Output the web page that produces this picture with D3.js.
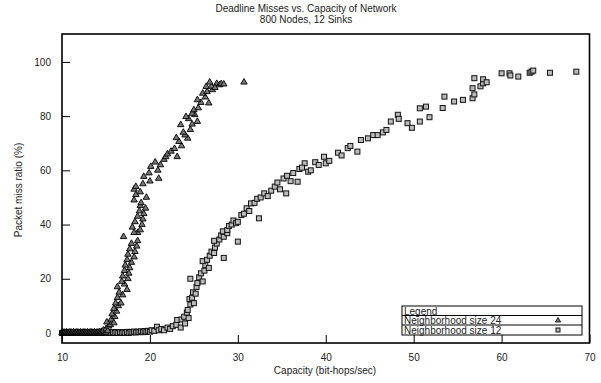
<!DOCTYPE html>
<html>
<head>
<meta charset="utf-8">
<script src="https://cdn.jsdelivr.net/npm/d3@7"></script>
<style>
  body { margin: 0; background: #fff; }
  text { font-family: "Liberation Sans", Arial, sans-serif; fill: #222; }
</style>
</head>
<body>
<div id="chart"></div>
<script>
// values: [capacity, miss ratio]
const size24 = [
  [10.0,0],[10.1,0.3],[10.2,0],[10.3,0.2],[10.4,0],[10.5,0.3],[10.6,0],[10.7,0.2],[10.8,0],[10.9,0.3],
  [11.0,0],[11.1,0.2],[11.2,0],[11.3,0.3],[11.4,0],[11.5,0.2],[11.6,0],[11.7,0.3],[11.8,0],[11.9,0.2],
  [12.0,0],[12.1,0.3],[12.2,0],[12.3,0.2],[12.4,0],[12.5,0.3],[12.6,0],[12.7,0.2],[12.8,0],[12.9,0.3],
  [13.0,0],[13.1,0.2],[13.2,0],[13.3,0.3],[13.4,0],[13.5,0.2],[13.6,0],[13.7,0.3],[13.8,0],[13.9,0.2],
  [14.0,0],[14.1,0.3],[14.2,0],[14.3,0.4],[14.4,0],[14.5,0.5],[14.6,0.3],[14.8,0.5],[15.0,0.2],
  [14.7,1],[15.0,1.5],[15.2,0.8],[15.3,2.5],[15.5,3],[15.1,4],[15.6,5],[15.9,3.7],[16.0,6],[15.7,7],
  [16.2,8],[15.9,9],[16.4,10],[16.1,11],[16.7,11],[16.3,13],[16.9,14],[16.5,15],[17.4,16],[16.3,17],
  [17.1,18],[16.8,19],[17.5,20],[16.9,21],[17.6,22],[17.1,23],[17.7,24],[17.2,25],[17.9,26],[17.4,27],
  [18.2,28],[17.5,29],[18.3,30],[17.7,31],[18.5,32],[17.9,33],[18.6,34],[17.0,35.5],[18.6,37],[18.2,37],
  [18.9,38],[18.0,39],[19.1,40],[18.3,41],[19.2,42],[18.6,43],[19.3,44],[18.8,45],[19.5,46],[18.9,47],
  [19.0,48],[18.2,49],[19.6,50],[18.4,51],[18.9,52],[18.2,53],[18.4,54],[19.2,55],[20.0,56],[19.3,57.7],
  [21.0,57],[19.9,59],[20.9,60],[20.1,61.4],[21.2,62],[20.6,63],[21.6,64],[21.8,65],[23.1,65],[22.0,66],
  [22.4,67],[22.8,68],[23.6,69],[23.3,70.6],[24.3,71.8],[23.0,72],[24.0,73],[23.8,74],[24.6,75],[23.5,76.8],
  [24.8,77],[25.4,78],[24.4,79],[24.1,79.8],[25.1,80.5],[24.8,81],[25.0,82.3],[25.5,83],[26.7,84.8],[25.8,85],
  [25.4,86],[26.3,87],[26.0,88.4],[26.5,89],[27.1,89.7],[26.4,90.9],[27.0,91],[26.8,92.5],[27.6,92],[27.9,91.5],
  [28.1,91.9],[28.4,91.8],[27.4,90.5],[30.7,92.5]
];

const size12 = [
  [10.0,0],[10.2,0.3],[10.4,0],[10.6,0.3],[10.8,0],[11.0,0.3],[11.2,0],[11.4,0.3],[11.6,0],[11.8,0.3],
  [12.0,0],[12.2,0.3],[12.4,0],[12.6,0.3],[12.8,0],[13.0,0.3],[13.2,0],[13.4,0.3],[13.6,0],[13.8,0.3],
  [14.0,0],[14.2,0.3],[14.4,0],[14.6,0.3],[14.8,0],[15.0,0.3],[15.2,0],[15.4,0.3],[15.6,0],[15.8,0.3],
  [16.0,0],[16.2,0.3],[16.4,0],[16.6,0.3],[16.8,0],[17.0,0.3],[17.2,0],[17.4,0.4],[17.6,0],[17.8,0.4],
  [18.0,0.2],[18.2,0.5],[18.4,0.2],[18.6,0.5],[18.8,0.3],[19.0,0.6],[19.2,0.3],[19.4,0.7],[19.6,0.4],[19.8,0.8],
  [20.0,0.5],[20.2,1.0],[20.5,0.8],[20.8,2.3],[21.0,1],[21.3,1.5],
  [21.6,1],[22.0,2],[22.3,1.5],[22.6,2.5],[23.0,3],[23.1,4.8],[23.5,2],[23.6,5],[23.9,6],[24.0,3.5],
  [24.2,7.5],[24.3,8.5],[24.4,5.5],[24.6,10.5],[24.5,12.5],[24.8,13],[25.0,11],[24.9,15],[25.2,14.5],[25.3,17],
  [24.6,20],[25.4,18.4],[25.6,20.5],[25.8,22],[26.0,19],[26.2,23],[26.3,25],[26.0,26.5],[26.5,27],[26.7,24],
  [26.8,28.5],[27.0,30],[27.3,29.5],[27.4,31.5],[27.6,33],[27.3,34],[27.9,34.5],[28.1,36],[28.4,27.7],[28.4,35.5],
  [28.3,37.5],[28.8,36.8],[28.8,38],[29.0,39.5],[29.3,40],[29.5,41.5],[29.8,40.5],[30.0,33.7],[30.0,41],[30.4,43.5],
  [30.7,44],[31.0,46],[31.3,45],[31.5,47.8],[31.9,48],[32.4,42.3],[32.2,49.5],[32.6,50],[33.0,51.5],[33.4,50.5],
  [33.8,52.5],[34.2,54],[34.5,55.5],[34.8,53],[35.2,57],[35.5,51.5],[35.6,58],[36.0,56],[36.3,59],[36.8,55.8],
  [37.0,60.5],[37.6,62.6],[37.3,61],[38.0,59.5],[38.3,60],[38.8,63],[39.2,62],[39.8,65],[40.0,62.6],[40.4,63.5],
  [41.4,66.5],[41.8,65.5],[42.5,68.2],[42.8,69],[43.6,66.9],[44.0,71.2],[44.8,71.8],[45.4,73],[45.9,73],[46.5,74],
  [46.9,74.9],[47.4,78],[48.2,80.5],[48.3,79],[49.3,77.4],[49.8,75.7],[50.7,78],[50.7,82.9],[51.4,83.5],[51.8,79.6],
  [53.3,83],[53.5,87.2],[54.6,85.4],[55.6,86],[56.7,86.6],[56.7,90.3],[56.9,88],[56.9,94],[57.6,91],[57.9,92.1],
  [57.9,93.6],[58.3,92.5],[60.0,95.8],[60.9,95.8],[61.0,95],[61.9,94.6],[63.2,96],[63.4,96.4],[63.6,96.8],[65.5,96],
  [68.5,96.4]
];

const xTicks = [10, 20, 30, 40, 50, 60, 70];
const yTicks = [0, 20, 40, 60, 80, 100];
const seriesNames = ["Neighborhood size 24", "Neighborhood size 12"];

const W = 601, H = 383;
const mLeft = 62, mRight = 589.5, mTop = 34, mBottom = 343;

const svg = d3.select("#chart").append("svg")
  .attr("width", W)
  .attr("height", H);

const x = d3.scaleLinear().domain([10, 70]).range([mLeft, mRight]);
const y = d3.scaleLinear().domain([-3.7, 110.3]).range([mBottom, mTop]);

// title
svg.append("text").attr("x", 306).attr("y", 12).attr("text-anchor", "middle")
  .attr("font-size", 10).text("Deadline Misses vs. Capacity of Network");
svg.append("text").attr("x", 306).attr("y", 23).attr("text-anchor", "middle")
  .attr("font-size", 10).text("800 Nodes, 12 Sinks");

// axes, ticks pointing inward
const xAxis = svg.append("g")
  .attr("transform", "translate(0," + mBottom + ")")
  .call(d3.axisBottom(x).tickValues(xTicks).tickSize(-8).tickPadding(11).tickFormat(d3.format("d")));
const yAxis = svg.append("g")
  .attr("transform", "translate(" + mLeft + ",0)")
  .call(d3.axisLeft(y).tickValues(yTicks).tickSize(-8).tickPadding(11).tickFormat(d3.format("d")));

[xAxis, yAxis].forEach(function(g) {
  g.select(".domain").remove();
  g.selectAll(".tick line").attr("stroke", "#000");
  g.selectAll(".tick text").attr("font-size", 10).attr("font-family", "Liberation Sans, Arial, sans-serif").attr("fill", "#222");
});

// data
svg.append("g").selectAll("rect")
  .data(size12)
  .enter()
  .append("rect")
  .attr("x", function(d) { return x(d[0]) - 2.5; })
  .attr("y", function(d) { return y(d[1]) - 2.5; })
  .attr("width", 5)
  .attr("height", 5)
  .attr("fill", "#bbb")
  .attr("stroke", "#111")
  .attr("stroke-width", 1);

const tri = d3.symbol().type(d3.symbolTriangle).size(18);
svg.append("g").selectAll("path")
  .data(size24)
  .enter()
  .append("path")
  .attr("d", tri)
  .attr("transform", function(d) { return "translate(" + x(d[0]) + "," + y(d[1]) + ")"; })
  .attr("fill", "#777")
  .attr("stroke", "#000")
  .attr("stroke-width", 0.9);

// frame
svg.append("rect")
  .attr("x", mLeft).attr("y", mTop)
  .attr("width", mRight - mLeft).attr("height", mBottom - mTop)
  .attr("fill", "none").attr("stroke", "#000").attr("stroke-width", 1.6);

// axis titles
svg.append("text").attr("x", 325).attr("y", 374).attr("text-anchor", "middle")
  .attr("font-size", 10).text("Capacity (bit-hops/sec)");
svg.append("text")
  .attr("transform", "translate(22," + 190 + ") rotate(-90)")
  .attr("text-anchor", "middle").attr("font-size", 10).text("Packet miss ratio (%)");

// legend
const lg = svg.append("g");
lg.append("rect").attr("x", 402).attr("y", 306).attr("width", 180).attr("height", 29)
  .attr("fill", "#fff").attr("stroke", "#000").attr("stroke-width", 1);
lg.append("line").attr("x1", 402).attr("x2", 582).attr("y1", 315.5).attr("y2", 315.5).attr("stroke", "#000");
lg.append("line").attr("x1", 402).attr("x2", 582).attr("y1", 325).attr("y2", 325).attr("stroke", "#000");
lg.append("text").attr("x", 404).attr("y", 314.5).attr("font-size", 10).text("Legend");
lg.selectAll("text.item")
  .data(seriesNames)
  .enter()
  .append("text")
  .attr("class", "item")
  .attr("x", 404)
  .attr("y", function(d, i) { return 324 + i * 9.7; })
  .attr("font-size", 10)
  .text(function(d) { return d; });
lg.append("path").attr("d", d3.symbol().type(d3.symbolTriangle).size(12))
  .attr("transform", "translate(558,320.5)").attr("fill", "#777").attr("stroke", "#000").attr("stroke-width", 0.8);
lg.append("rect").attr("x", 556).attr("y", 328).attr("width", 4).attr("height", 4)
  .attr("fill", "#bbb").attr("stroke", "#111");
</script>
</body>
</html>
